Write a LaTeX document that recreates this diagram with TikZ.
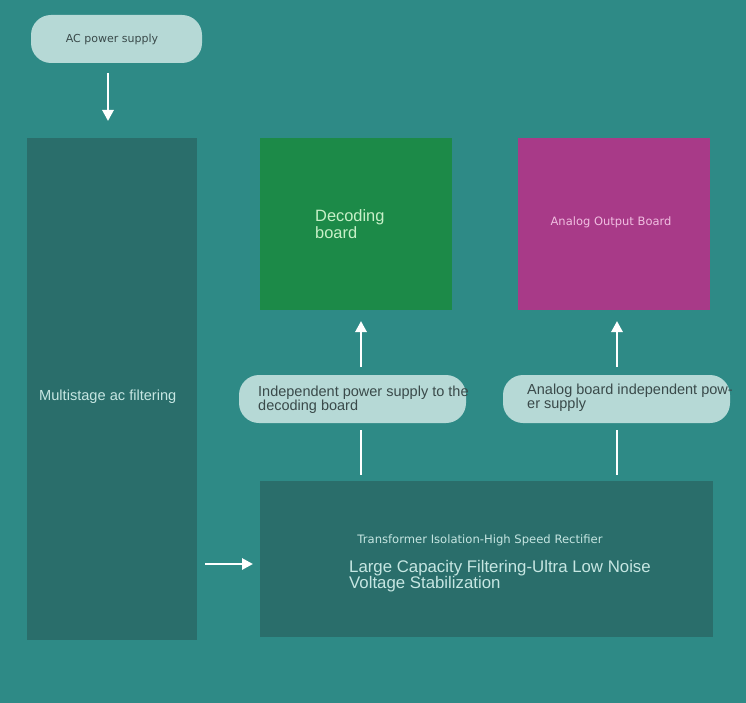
\documentclass[tikz,border=0pt]{standalone}
\usepackage{fontspec}
\setmainfont{Liberation Sans}
\newfontfamily\dvs{DejaVu Sans}
\usetikzlibrary{arrows.meta}
\definecolor{bg}{HTML}{2E8A86}
\definecolor{darkbox}{HTML}{2A6E6B}
\definecolor{decg}{HTML}{1C8A48}
\definecolor{anap}{HTML}{A83A88}
\definecolor{pillc}{HTML}{B6D9D6}
\definecolor{pilltxt}{HTML}{3A4A4A}
\definecolor{lighttxt}{HTML}{C6E6E2}
\tikzset{
  pill/.style={fill=pillc, rounded corners=20pt, inner sep=0pt},
  flat/.style={inner sep=0pt},
  txt/.style={inner sep=0pt},
  conn/.style={draw=white, line width=2.8pt},
  arr/.style={conn, -{Triangle[length=11pt,width=11pt]}},
}
\begin{document}
\begin{tikzpicture}[x=1pt,y=-1pt]
\fill[bg] (0,0) rectangle (746,703);
\useasboundingbox (0,0) rectangle (746,703);
% boxes
\node[pill, minimum width=171pt, minimum height=48pt] (ac) at (116.5,39) {};
\node[txt, text=pilltxt, font=\dvs\fontsize{11}{13}\selectfont] at (112,39) {AC power supply};
\node[flat, fill=darkbox, minimum width=170pt, minimum height=502pt] (filt) at (112,389) {};
\node[txt, anchor=west, text=lighttxt, font=\fontsize{14.6}{16}\selectfont] at (39,397) {Multistage ac filtering};
\node[flat, fill=decg, minimum width=192pt, minimum height=172pt] (dec) at (356,224) {};
\node[txt, anchor=west, align=left, text={rgb,255:red,200;green,240;blue,200}, font=\fontsize{16.4}{17}\selectfont] at (315,224) {Decoding\\board};
\node[flat, fill=anap, minimum width=192pt, minimum height=172pt] (ana) at (614,224) {};
\node[txt, text={rgb,255:red,240;green,190;blue,225}, font=\dvs\fontsize{11.5}{14}\selectfont] at (611,222) {Analog Output Board};
\node[pill, minimum width=227pt, minimum height=48pt] (p1) at (352.5,399) {};
\node[txt, anchor=west, align=left, text=pilltxt, font=\fontsize{14.5}{14}\selectfont] at (258,400) {Independent power supply to the\\decoding board};
\node[pill, minimum width=227pt, minimum height=48pt] (p2) at (616.5,399) {};
\node[txt, anchor=west, align=left, text=pilltxt, font=\fontsize{14.5}{14}\selectfont] at (527,398) {Analog board independent pow-\\er supply};
\node[flat, fill=darkbox, minimum width=453pt, minimum height=156pt] (psu) at (486.5,559) {};
\node[txt, text=lighttxt, font=\dvs\fontsize{11.6}{14}\selectfont] at (480,540) {Transformer Isolation-High Speed Rectifier};
\node[txt, anchor=west, align=left, text=lighttxt, font=\fontsize{16.8}{15}\selectfont] at (349,576) {Large Capacity Filtering-Ultra Low Noise\\Voltage Stabilization};
% connectors
\coordinate (a1s) at (108,73); \coordinate (a1e) at (108,121);
\draw[arr] (a1s) -- (a1e);
\coordinate (a2s) at (205,564); \coordinate (a2e) at (253,564);
\draw[arr] (a2s) -- (a2e);
\coordinate (u1s) at (361,367); \coordinate (u1e) at (361,321);
\draw[arr] (u1s) -- (u1e);
\coordinate (u2s) at (617,367); \coordinate (u2e) at (617,321);
\draw[arr] (u2s) -- (u2e);
\coordinate (l1s) at (361,430); \coordinate (l1e) at (361,475);
\draw[conn] (l1s) -- (l1e);
\coordinate (l2s) at (617,430); \coordinate (l2e) at (617,475);
\draw[conn] (l2s) -- (l2e);
\end{tikzpicture}
\end{document}
